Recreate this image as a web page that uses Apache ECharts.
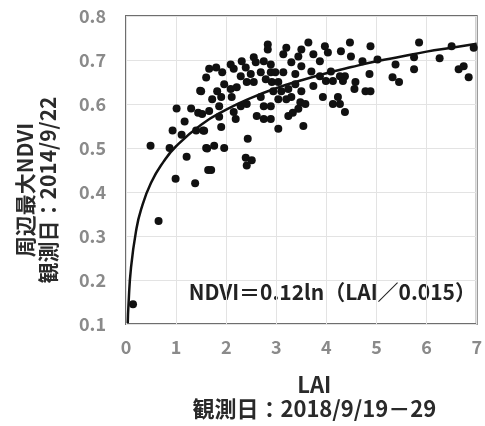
<!DOCTYPE html>
<html>
<head>
<meta charset="utf-8">
<script src="https://cdn.jsdelivr.net/npm/echarts@6/dist/echarts.min.js"></script>
<style>
  html, body { margin: 0; padding: 0; background: #fff; }
  #chart { width: 485px; height: 426px; }
</style>
</head>
<body>
<div id="chart"></div>
<script>
// 観測点 [LAI, NDVI]
const points = [
  [0.14, 0.145], [0.65, 0.334], [0.49, 0.505], [0.99, 0.43], [1.38, 0.42], [0.87, 0.50],
  [0.93, 0.54], [1.11, 0.53], [1.21, 0.48], [1.01, 0.59], [1.30, 0.59], [1.44, 0.58],
  [1.17, 0.56], [1.40, 0.54], [1.54, 0.54], [1.48, 0.63], [1.60, 0.66], [1.60, 0.50],
  [1.64, 0.45], [1.70, 0.45],
  [2.83, 0.735], [2.83, 0.724], [1.66, 0.68], [1.80, 0.683], [1.92, 0.672], [2.09, 0.69],
  [2.15, 0.68], [2.31, 0.697], [2.39, 0.683], [2.55, 0.706], [2.59, 0.695], [2.75, 0.697],
  [2.89, 0.69], [2.29, 0.663], [2.49, 0.668], [2.69, 0.672], [2.89, 0.672], [1.50, 0.629],
  [1.82, 0.629], [1.96, 0.645], [2.09, 0.634], [2.21, 0.638], [2.41, 0.65], [2.55, 0.65],
  [2.79, 0.656], [1.72, 0.611], [1.90, 0.616], [1.86, 0.595], [2.11, 0.616], [2.29, 0.595],
  [2.41, 0.60], [2.69, 0.616], [2.75, 0.595], [2.89, 0.595], [1.52, 0.577], [1.66, 0.584],
  [1.86, 0.571], [2.15, 0.582], [2.19, 0.566], [2.61, 0.573], [2.75, 0.566], [2.89, 0.566],
  [3.04, 0.544], [1.56, 0.539], [1.90, 0.548], [1.62, 0.499], [1.76, 0.505], [1.96, 0.50],
  [2.43, 0.521], [2.39, 0.478], [2.51, 0.472], [2.41, 0.46],
  [3.64, 0.74], [3.20, 0.728], [3.50, 0.724], [3.97, 0.731], [4.03, 0.717], [4.29, 0.72],
  [3.14, 0.713], [3.44, 0.708], [3.74, 0.713], [3.30, 0.695], [3.50, 0.686], [3.87, 0.697],
  [2.98, 0.672], [3.14, 0.672], [3.38, 0.668], [3.70, 0.674], [4.09, 0.674], [3.87, 0.663],
  [3.99, 0.652], [4.13, 0.652], [4.37, 0.663], [2.91, 0.65], [3.04, 0.65], [3.38, 0.645],
  [3.74, 0.641], [2.94, 0.629], [3.10, 0.629], [3.24, 0.634], [3.50, 0.629], [3.04, 0.611],
  [3.20, 0.611], [3.30, 0.616], [3.48, 0.604], [3.93, 0.616], [4.23, 0.616], [4.13, 0.60],
  [3.44, 0.589], [4.37, 0.582], [3.24, 0.573], [3.54, 0.55], [3.33, 0.58], [3.58, 0.60],
  [4.47, 0.74], [4.88, 0.731], [4.49, 0.708], [4.72, 0.697], [5.02, 0.701], [5.38, 0.69],
  [5.75, 0.706], [5.75, 0.679], [4.27, 0.663], [4.33, 0.652], [4.58, 0.65], [4.86, 0.668],
  [5.32, 0.661], [5.45, 0.65], [4.56, 0.634], [4.78, 0.629], [4.88, 0.629], [4.27, 0.60],
  [5.85, 0.74], [6.50, 0.731], [6.94, 0.728], [6.26, 0.704], [6.64, 0.679], [6.74, 0.686],
  [6.84, 0.661]
];

// 近似曲線 NDVI = 0.12ln(LAI/0.015)
const curveLai = [0.035, 0.05, 0.1, 0.2, 0.3, 0.5, 0.75, 1, 1.5, 2, 2.5, 3, 3.5, 4, 4.5, 5, 5.5, 6, 6.5, 7];
const curveNdvi = [0.102, 0.145, 0.228, 0.311, 0.36, 0.421, 0.469, 0.504, 0.553, 0.587, 0.614, 0.636, 0.654, 0.670, 0.684, 0.697, 0.708, 0.719, 0.728, 0.737];

const xTicks = [0, 7, 1];
const yTicks = [0.1, 0.8, 0.1];

const equation = "NDVI＝0.12ln（LAI／0.015）";
const xName = "LAI\n観測日：2018/9/19－29";
const yName = "周辺最大NDVI\n観測日：2014/9/22";

const font = "'Noto Sans CJK JP', 'Noto Sans', sans-serif";

const chart = echarts.init(document.getElementById("chart"));

chart.setOption({
  animation: false,
  grid: {
    left: 126,
    top: 16,
    right: 5,
    bottom: 99,
    show: true,
    borderColor: "#6e6e6e",
    borderWidth: 2,
  },
  xAxis: {
    type: "value",
    min: xTicks[0],
    max: xTicks[1],
    interval: xTicks[2],
    axisLine: { show: false },
    axisTick: { show: false },
    splitLine: { lineStyle: { color: "#e3e3e3" } },
    axisLabel: {
      color: "#8a8a8a",
      fontSize: 18,
      fontWeight: "bold",
      fontFamily: font,
      margin: 14,
    },
    name: xName,
    nameLocation: "middle",
    nameGap: 49,
    nameTextStyle: {
      color: "#2a2a2a",
      fontSize: 22,
      fontWeight: "bold",
      fontFamily: font,
      lineHeight: 24,
      padding: [0, 0, 0, 26],
    },
  },
  yAxis: {
    type: "value",
    min: yTicks[0],
    max: yTicks[1],
    interval: yTicks[2],
    axisLine: { show: false },
    axisTick: { show: false },
    splitLine: { lineStyle: { color: "#e3e3e3" } },
    axisLabel: {
      color: "#8a8a8a",
      fontSize: 18,
      fontWeight: "bold",
      fontFamily: font,
      margin: 20,
      formatter: (v) => v.toFixed(1),
    },
    name: yName,
    nameLocation: "middle",
    nameGap: 66,
    nameRotate: 90,
    nameTextStyle: {
      color: "#2a2a2a",
      fontSize: 21,
      fontWeight: "bold",
      fontFamily: font,
      lineHeight: 23,
      padding: [0, 40, 0, 0],
    },
  },
  graphic: [
    {
      type: "text",
      right: 9,
      top: 282,
      style: {
        text: equation,
        fill: "#222",
        fontSize: 21,
        fontWeight: "bold",
        fontFamily: font,
      },
    },
  ],
  series: [
    {
      type: "scatter",
      data: points,
      symbolSize: 8,
      itemStyle: { color: "#111", opacity: 1 },
      z: 2,
    },
    {
      type: "line",
      data: curveLai.map((x, i) => [x, curveNdvi[i]]),
      smooth: true,
      symbol: "none",
      lineStyle: { color: "#111", width: 2.5 },
      z: 3,
    },
  ],
});
</script>
</body>
</html>
